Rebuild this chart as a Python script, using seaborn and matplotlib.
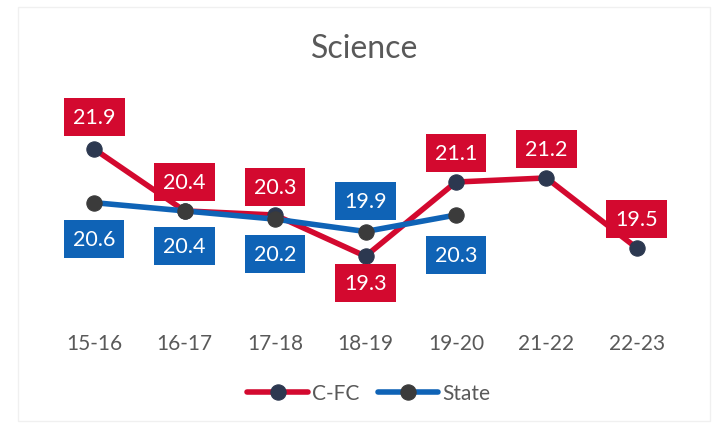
import matplotlib
matplotlib.use("Agg")
import matplotlib.pyplot as plt
from matplotlib.patches import Rectangle
import numpy as np
import pandas as pd
import seaborn as sns

# School years and average science scores
years = ["15-16", "16-17", "17-18", "18-19", "19-20", "21-22", "22-23"]
cfc_scores = [21.9, 20.4, 20.3, 19.3, 21.1, 21.2, 19.5]
state_scores = [20.6, 20.4, 20.2, 19.9, 20.3, np.nan, np.nan]

# Vertical offset (points) of each value box from its marker; 0 = no box
cfc_label_offset = [23, 21, 20, -19, 21, 21, 21]
state_label_offset = [-26, -25, -25, 22, -29, 0, 0]

RED = "#D3092F"
BLUE = "#0F63B6"
CFC_MARKER = "#2C3850"
STATE_MARKER = "#3B3B3B"
TEXT_GREY = "#595959"

sns.set_theme(style="white")
plt.rcParams["font.family"] = ["Lato", "DejaVu Sans"]

df = pd.DataFrame({
    "pos": np.arange(len(years)),
    "C-FC": cfc_scores,
    "State": state_scores,
})

fig = plt.figure(figsize=(7.18, 4.27), dpi=100)
ax = fig.add_axes([49 / 718, 1 - 310 / 427, 633 / 718, 230 / 427])

# faint outer frame of the chart area
fig.patches.append(Rectangle((18 / 718, 5 / 427), 692 / 718, 414 / 427,
                             transform=fig.transFigure, fill=False,
                             edgecolor="#F0F0F0", linewidth=1.0, zorder=0))

line_kw = dict(linewidth=4.0, marker="o", markersize=11, markeredgewidth=0.8)
sns.lineplot(data=df, x="pos", y="C-FC", ax=ax, color=RED,
             markerfacecolor=CFC_MARKER, markeredgecolor=CFC_MARKER,
             label="C-FC", zorder=3, **line_kw)
sns.lineplot(data=df.dropna(subset=["State"]), x="pos", y="State", ax=ax,
             color=BLUE, markerfacecolor=STATE_MARKER,
             markeredgecolor=STATE_MARKER, label="State", zorder=4, **line_kw)


def add_labels(values, offsets, color):
    for i, (v, off) in enumerate(zip(values, offsets)):
        if np.isnan(v) or off == 0:
            continue
        ax.annotate(f"{v:.1f}", xy=(i, v), xytext=(0, off),
                    textcoords="offset points", ha="center", va="center",
                    fontsize=15.5, color="white", zorder=6,
                    bbox=dict(boxstyle="square,pad=0.42", facecolor=color,
                              edgecolor="none"))


add_labels(cfc_scores, cfc_label_offset, RED)
add_labels(state_scores, state_label_offset, BLUE)

ax.set_xlim(-0.5, len(years) - 0.5)
ax.set_ylim(18.02, 23.6)
ax.set_xticks(range(len(years)))
ax.set_xticklabels(years, fontsize=15, color=TEXT_GREY)
ax.tick_params(axis="x", length=0, pad=17)
ax.set_yticks([])
ax.set_xlabel("")
ax.set_ylabel("")
for sp in ax.spines.values():
    sp.set_visible(False)
ax.patch.set_alpha(0)

fig.text(365 / 718, 1 - 49 / 427, "Science", ha="center", va="center",
         fontsize=23, color=TEXT_GREY)

ax.get_legend().remove()
handles, labels = ax.get_legend_handles_labels()
fig.legend(handles, labels, loc="center", bbox_to_anchor=(369 / 718, 1 - 394 / 427),
           ncol=2, frameon=False, fontsize=15, handlelength=2.9,
           handletextpad=0.2, columnspacing=0.9, labelcolor=TEXT_GREY)

fig.savefig("out.png", dpi=100)
